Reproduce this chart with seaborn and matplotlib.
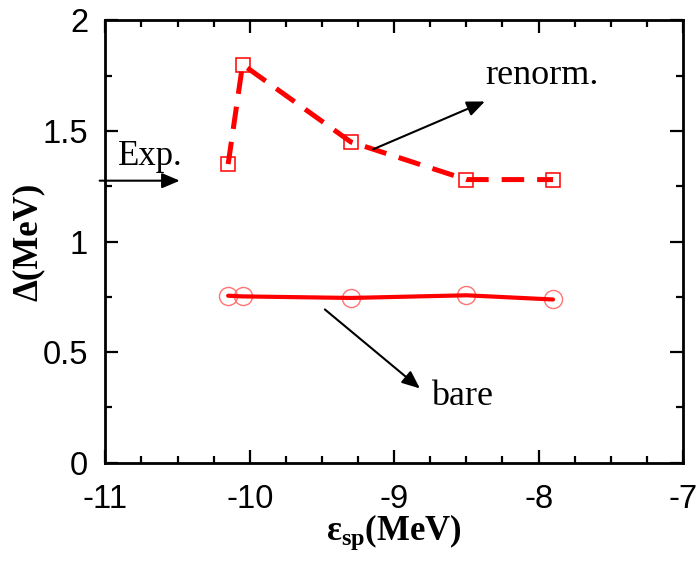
import matplotlib
matplotlib.use("Agg")
import matplotlib.pyplot as plt
import seaborn as sns
import pandas as pd

# ---- data ----
eps_renorm = [-10.15, -10.05, -9.3, -8.5, -7.9]
delta_renorm = [1.35, 1.80, 1.45, 1.28, 1.28]
eps_bare = [-10.15, -10.05, -9.3, -8.5, -7.9]
delta_bare = [0.755, 0.752, 0.745, 0.757, 0.738]
delta_exp = 1.275
x_ticks = [-11, -10, -9, -8, -7]
y_ticks = [0, 0.5, 1, 1.5, 2]
y_tick_labels = ["0", "0.5", "1", "1.5", "2"]

sns.set_style("ticks")
plt.rcParams["font.family"] = ["Liberation Sans", "DejaVu Sans"]
plt.rcParams["mathtext.fontset"] = "custom"
plt.rcParams["mathtext.rm"] = "Liberation Serif"
plt.rcParams["mathtext.bf"] = "Liberation Serif:bold"
plt.rcParams["mathtext.it"] = "Liberation Serif:italic"
for k in ["text.color", "axes.labelcolor", "xtick.color", "ytick.color", "axes.edgecolor"]:
    plt.rcParams[k] = "black"

df_r = pd.DataFrame({"eps": eps_renorm, "delta": delta_renorm})
df_b = pd.DataFrame({"eps": eps_bare, "delta": delta_bare})

fig = plt.figure(figsize=(6.98, 5.63), dpi=100)
ax = fig.add_axes([0.151, 0.178, 0.8275, 0.786])

# bare: circles then solid line
sns.lineplot(data=df_b, x="eps", y="delta", ax=ax, sort=False, estimator=None,
             linestyle="none", marker="o", markersize=13, markerfacecolor="none",
             markeredgecolor=(1.0, 0.45, 0.45), markeredgewidth=1.0, color="red")
sns.lineplot(data=df_b, x="eps", y="delta", ax=ax, sort=False, estimator=None,
             color="red", linewidth=3.0)

# renorm: dashed line then squares
sns.lineplot(data=df_r, x="eps", y="delta", ax=ax, sort=False, estimator=None,
             color="red", linewidth=3.6, linestyle=(0, (4.5, 2.6)))
sns.lineplot(data=df_r, x="eps", y="delta", ax=ax, sort=False, estimator=None,
             linestyle="none", marker="s", markersize=9.5, markerfacecolor="none",
             markeredgecolor="red", markeredgewidth=1.1, color="red")

ax.set_xlim(-11, -7)
ax.set_ylim(0, 2)
ax.set_xticks(x_ticks)
ax.set_xticklabels([str(v) for v in x_ticks])
ax.set_yticks(y_ticks)
ax.set_yticklabels(y_tick_labels)
ax.set_xticks([v / 4 for v in range(-44, -27)], minor=True)
ax.set_yticks([v / 4 for v in range(0, 9)], minor=True)

for s in ax.spines.values():
    s.set_visible(True)
    s.set_linewidth(2.0)
    s.set_color("black")

ax.tick_params(which="both", direction="in", top=True, right=True, color="black",
               labelcolor="black", width=1.6)
ax.tick_params(which="major", length=9.5, labelsize=23.5)
ax.tick_params(which="minor", length=5.0)
ax.tick_params(axis="y", which="major", pad=12.5)
ax.tick_params(axis="x", which="major", pad=15)

ax.set_xlabel(r"ε$_{\mathbf{sp}}$(MeV)", fontsize=25, family="Liberation Serif",
              fontweight="bold", color="black")
ax.set_ylabel("Δ(MeV)", fontsize=25, family="Liberation Serif", fontweight="bold", color="black")
ax.xaxis.set_label_coords(0.5, -0.112)
ax.yaxis.set_label_coords(-0.105, 0.5)
ax.xaxis.label.set_va("top")

arrow_kw = dict(arrowstyle="-|>,head_length=0.4,head_width=0.17", color="black",
                lw=1.5, shrinkA=0, shrinkB=0, mutation_scale=27)

# Exp. arrow
ax.annotate("", xy=(-10.485, delta_exp), xytext=(-11.04, delta_exp),
            arrowprops=arrow_kw, annotation_clip=False)
ax.text(-10.913, 1.346, "Exp.", fontsize=25, family="Liberation Serif", va="baseline",
        ha="left", color="black")

# renorm arrow
ax.annotate("", xy=(-8.372, 1.633), xytext=(-9.145, 1.417), arrowprops=arrow_kw)
ax.text(-8.372, 1.714, "renorm.", fontsize=26, family="Liberation Serif", va="baseline",
        ha="left", color="black")

# bare arrow
ax.annotate("", xy=(-8.822, 0.336), xytext=(-9.48, 0.693), arrowprops=arrow_kw)
ax.text(-8.746, 0.259, "bare", fontsize=26, family="Liberation Serif", va="baseline",
        ha="left", color="black")

fig.savefig("out.png", dpi=100)
